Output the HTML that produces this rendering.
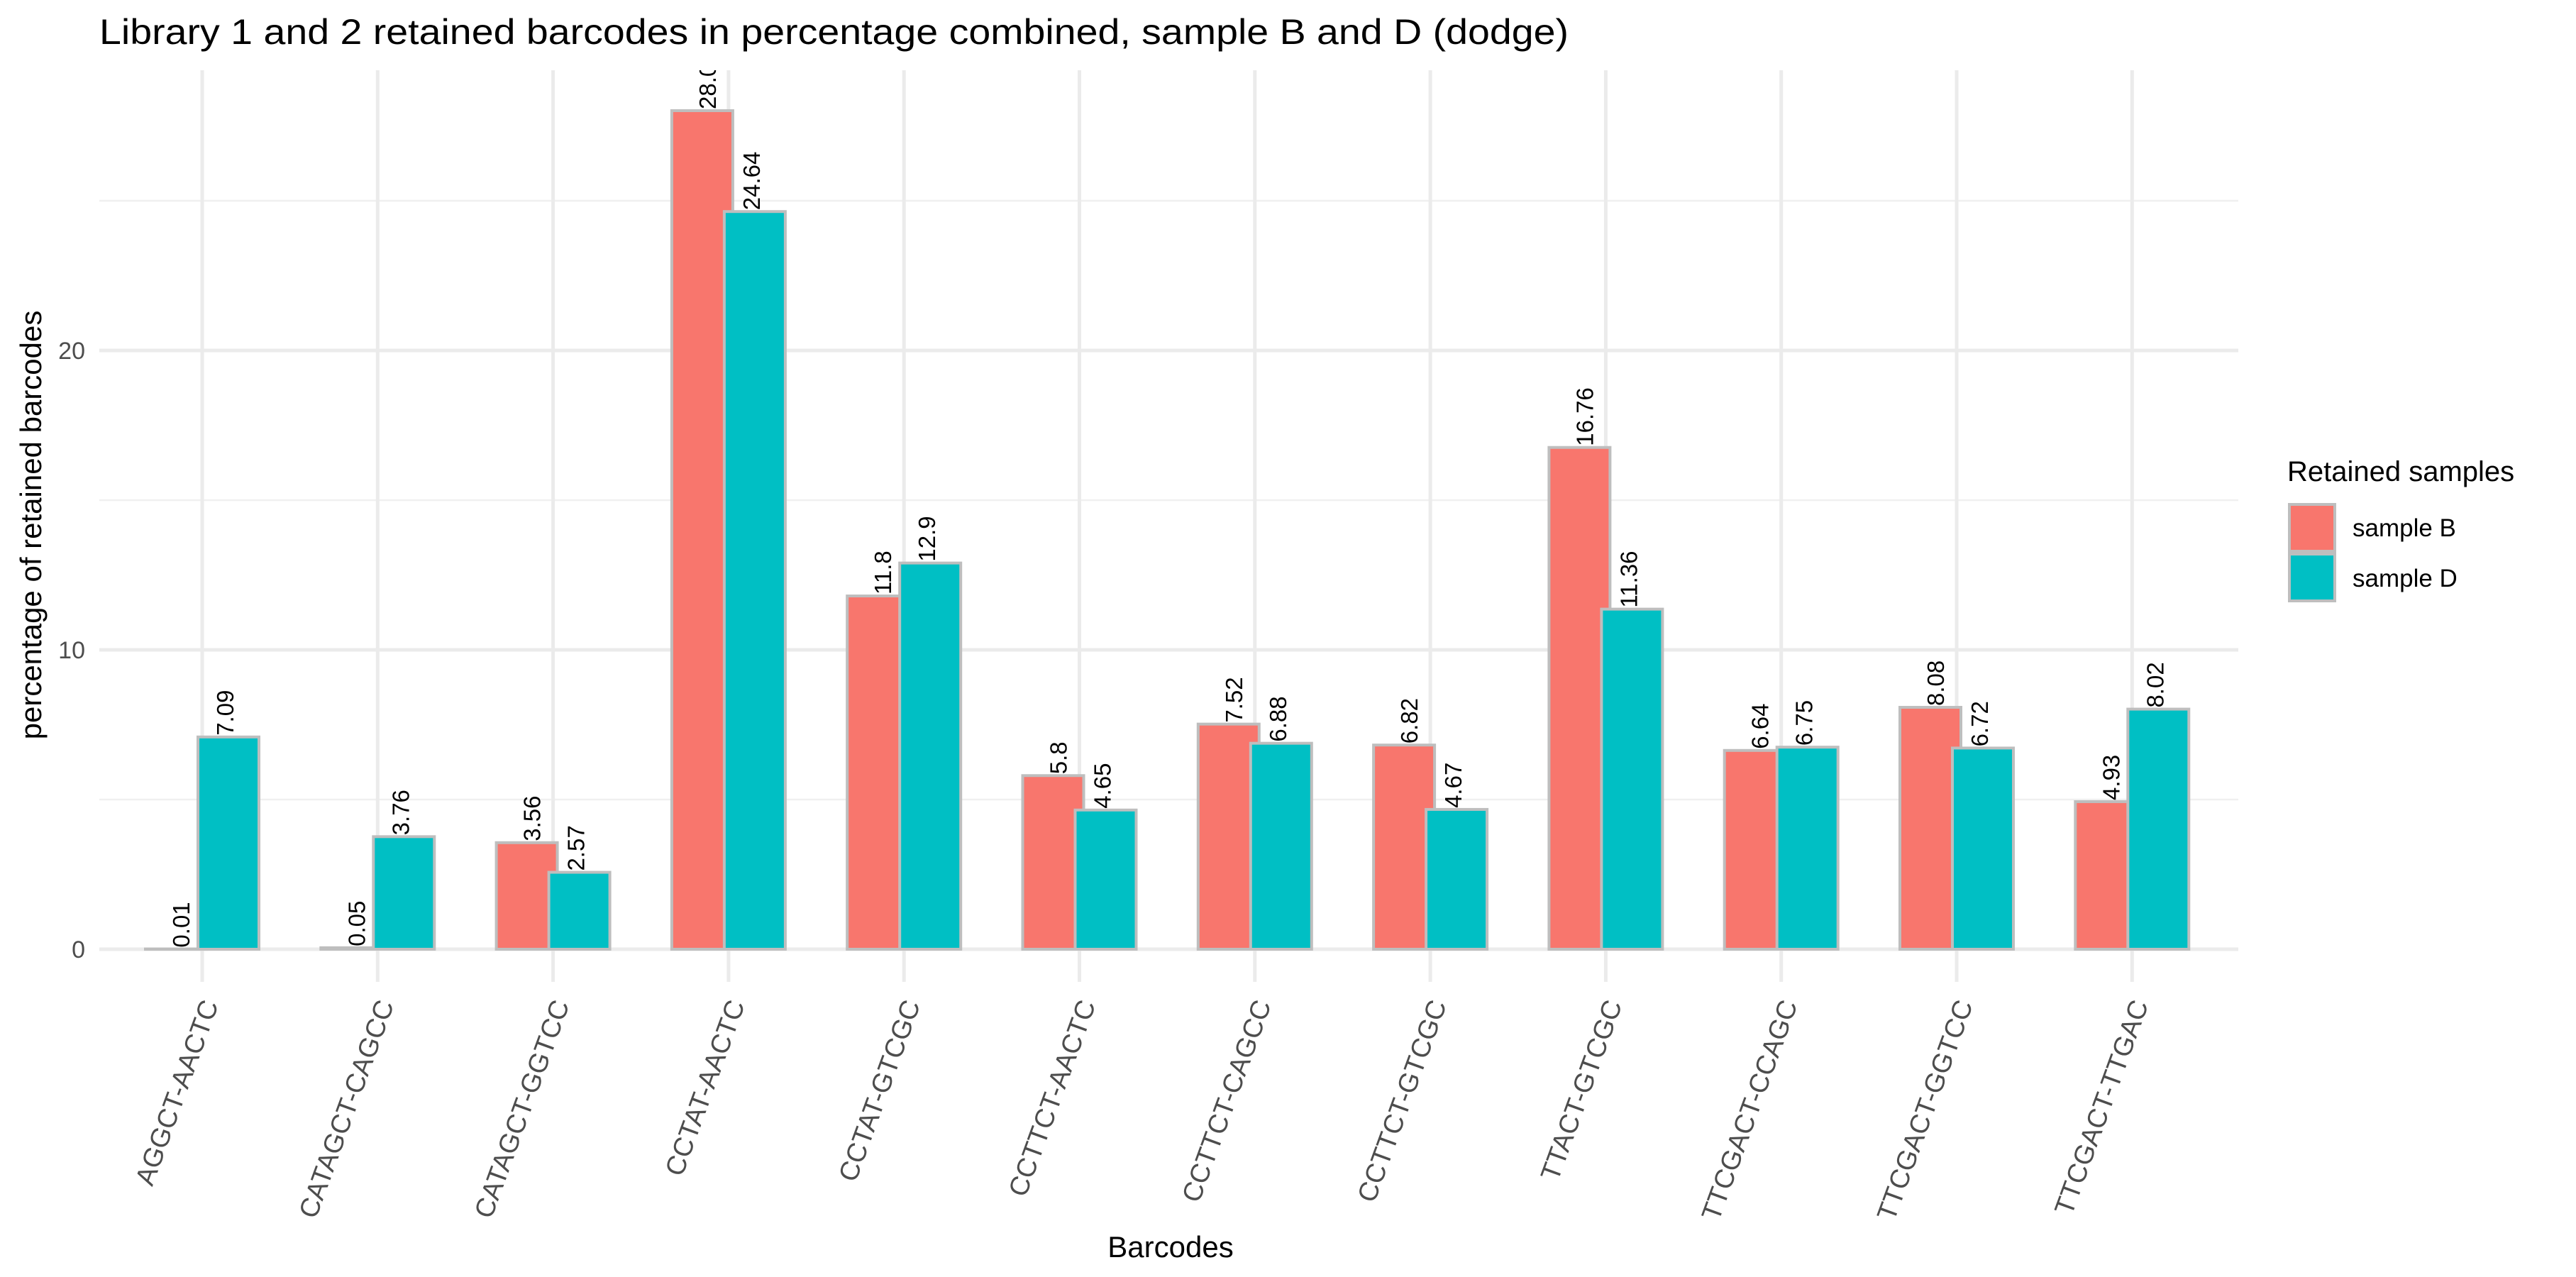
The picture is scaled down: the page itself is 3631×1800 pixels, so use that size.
<!DOCTYPE html>
<html><head><meta charset="utf-8"><style>
html,body{margin:0;padding:0;background:#fff}
svg{display:block}
text{font-family:"Liberation Sans",sans-serif}
</style></head><body>
<svg id="chart" width="3631" height="1800" viewBox="0 0 3631 1800" xmlns="http://www.w3.org/2000/svg">
<defs><clipPath id="panelClip"><rect x="140" y="99" width="3015" height="1285"/></clipPath></defs>
<text x="140" y="62" font-size="50" textLength="2071" lengthAdjust="spacingAndGlyphs" fill="#000">Library 1 and 2 retained barcodes in percentage combined, sample B and D (dodge)</text>
<g id="grid"></g>
<g id="bars" clip-path="url(#panelClip)"></g>
<g id="yticks"></g>
<g id="xticks"></g>
<text x="1650" y="1772" font-size="42" text-anchor="middle" fill="#000">Barcodes</text>
<text transform="translate(58,740) rotate(-90)" font-size="42" text-anchor="middle" fill="#000">percentage of retained barcodes</text>
<g>
<text x="3224" y="678" font-size="40" fill="#000">Retained samples</text>
<rect x="3227" y="711" width="64" height="66" fill="#F8766D" stroke="#bebebe" stroke-width="4"/>
<rect x="3227" y="781" width="64" height="66" fill="#00BFC4" stroke="#bebebe" stroke-width="4"/>
<text x="3316" y="756" font-size="35" fill="#000">sample B</text>
<text x="3316" y="827" font-size="35" fill="#000">sample D</text>
</g>
</svg>
<script>
const categories=["AGGCT-AACTC","CATAGCT-CAGCC","CATAGCT-GGTCC","CCTAT-AACTC","CCTAT-GTCGC","CCTTCT-AACTC","CCTTCT-CAGCC","CCTTCT-GTCGC","TTACT-GTCGC","TTCGACT-CCAGC","TTCGACT-GGTCC","TTCGACT-TTGAC"];
const sampleB=[0.01,0.05,3.56,28.01,11.8,5.8,7.52,6.82,16.76,6.64,8.08,4.93];
const sampleD=[7.09,3.76,2.57,24.64,12.9,4.65,6.88,4.67,11.36,6.75,6.72,8.02];
const labelsB=["0.01","0.05","3.56","28.01","11.8","5.8","7.52","6.82","16.76","6.64","8.08","4.93"];
const labelsD=["7.09","3.76","2.57","24.64","12.9","4.65","6.88","4.67","11.36","6.75","6.72","8.02"];
const yMajor=[0,10,20];
const yMinor=[5,15,25];
const NS="http://www.w3.org/2000/svg";
const px0=140,px1=3155,py0=99,py1=1384;
function xs(i){return 285+247.3*i;}
function ys(v){return 1338-42.2*v;}
function mk(tag,attrs,parent){const e=document.createElementNS(NS,tag);for(const k in attrs)e.setAttribute(k,attrs[k]);parent.appendChild(e);return e;}
const grid=document.getElementById('grid');
yMinor.forEach(v=>{const l=mk('line',{x1:px0,x2:px1,y1:ys(v),y2:ys(v),stroke:'#f0f0f0','stroke-width':2.5},grid);

});
yMajor.forEach(v=>{const l=mk('line',{x1:px0,x2:px1,y1:ys(v),y2:ys(v),stroke:'#ebebeb','stroke-width':5},grid);

});
categories.forEach((c,i)=>{const l=mk('line',{x1:xs(i),x2:xs(i),y1:py0,y2:py1,stroke:'#ebebeb','stroke-width':5},grid);

});
const bars=document.getElementById('bars');
function bar(i,v,lab,isB){const c=xs(i);const x=isB?c-80:c-6;const y=ys(v);const h=Math.max(ys(0)-y,0.5);
const r=mk('rect',{x:x,y:y,width:86,height:h,fill:isB?'#F8766D':'#00BFC4',stroke:'#bebebe','stroke-width':4},bars);


const lx=isB?c-30:c+32;
const t=mk('text',{transform:`translate(${lx+12},${y-2}) rotate(-90)`,'font-size':33,fill:'#000'},bars);
t.textContent=lab;

}
categories.forEach((c,i)=>{bar(i,sampleB[i],labelsB[i],true);});
categories.forEach((c,i)=>{bar(i,sampleD[i],labelsD[i],false);});
const yt=document.getElementById('yticks');
yMajor.forEach(v=>{const t=mk('text',{x:120,y:ys(v)+12,'font-size':34,'text-anchor':'end',fill:'#4d4d4d'},yt);t.textContent=String(v);

});
const xt=document.getElementById('xticks');
categories.forEach((c,i)=>{const t=mk('text',{transform:`translate(${xs(i)+14},${1412}) rotate(-70)`,'font-size':38,'text-anchor':'end','dominant-baseline':'middle',fill:'#4d4d4d'},xt);t.textContent=c;

});
</script>
</body></html>
